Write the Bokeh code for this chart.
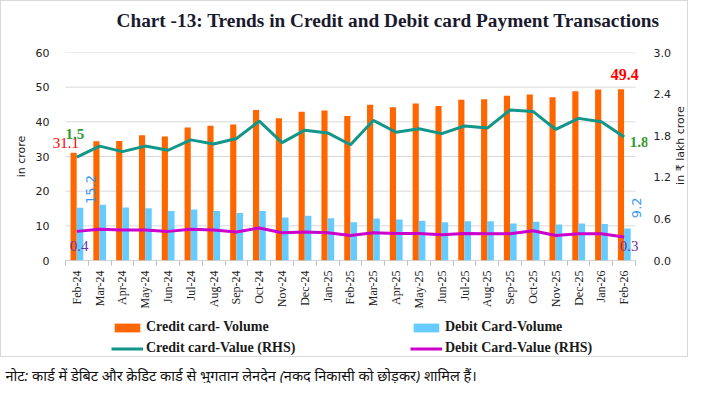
import math
from bokeh.plotting import figure
from bokeh.layouts import column, row
from bokeh.models import (Range1d, LinearAxis, FixedTicker, Label, Legend, LegendItem,
                          ColumnDataSource, NumeralTickFormatter)
from bokeh.embed import file_html
from bokeh.resources import INLINE

months = ["Feb-24", "Mar-24", "Apr-24", "May-24", "Jun-24", "Jul-24", "Aug-24", "Sep-24",
          "Oct-24", "Nov-24", "Dec-24", "Jan-25", "Feb-25", "Mar-25", "Apr-25", "May-25",
          "Jun-25", "Jul-25", "Aug-25", "Sep-25", "Oct-25", "Nov-25", "Dec-25", "Jan-26", "Feb-26"]
credit_volume = [31.1, 34.4, 34.5, 36.1, 35.8, 38.4, 38.9, 39.2, 43.4, 41.0, 42.9, 43.3, 41.7,
                 44.9, 44.2, 45.3, 44.6, 46.4, 46.5, 47.5, 47.9, 47.1, 48.8, 49.3, 49.4]
debit_volume = [15.2, 16.1, 15.3, 15.1, 14.3, 14.7, 14.3, 13.7, 14.3, 12.4, 12.9, 12.2, 11.0,
                12.1, 11.8, 11.5, 11.0, 11.3, 11.3, 10.7, 11.2, 10.4, 10.7, 10.5, 9.2]
credit_value = [1.49, 1.65, 1.57, 1.65, 1.59, 1.74, 1.68, 1.76, 2.01, 1.70, 1.88, 1.84, 1.67,
                2.02, 1.85, 1.90, 1.83, 1.94, 1.91, 2.17, 2.15, 1.89, 2.05, 2.00, 1.78]
debit_value = [0.42, 0.45, 0.44, 0.44, 0.42, 0.45, 0.44, 0.41, 0.47, 0.40, 0.41, 0.40, 0.36,
               0.40, 0.39, 0.39, 0.37, 0.39, 0.385, 0.385, 0.43, 0.36, 0.385, 0.385, 0.34]
left_ticks = [0, 10, 20, 30, 40, 50, 60]
right_ticks = [0.0, 0.6, 1.2, 1.8, 2.4, 3.0]

title_text = "Chart -13: Trends in Credit and Debit card Payment Transactions"
left_label = "in crore"
right_label = "in ₹ lakh crore"
note_text = "नोट: कार्ड में डेबिट और क्रेडिट कार्ड से भुगतान लेनदेन (नकद निकासी को छोड़कर) शामिल हैं।"

ORANGE = "#FF6600"
LBLUE = "#66CCFF"
TEAL = "#13968A"
MAGENTA = "#CC00CC"
GRID = "#D9D9D9"
TXT = "#222222"

W = 686           # inner width (a 1px border surrounds title + chart + legend)
HT = 36           # title strip height
HC = 276          # chart figure height
HL = 43           # legend strip height
HN = 26           # note strip height
WR = 14           # right axis-title strip width
WP = W - WR       # chart figure width
FL, FR = 51, 650  # frame left/right inside chart figure
FT, FB = 15, 223  # frame top/bottom inside chart figure
PX = 22.96        # pixels per category

n = len(months)
idx = list(range(n))
src = ColumnDataSource(dict(
    x=idx,
    xc=[i - 0.14 for i in idx],
    xd=[i + 0.14 for i in idx],
    cv=credit_volume, dv=debit_volume, cval=credit_value, dval=debit_value,
))


def no_align(fig):
    try:
        fig.frame_align = False
    except Exception:
        pass


def strip(w, h):
    f = figure(width=w, height=h, output_backend="svg", toolbar_location=None,
               x_axis_type=None, y_axis_type=None,
               min_border_left=0, min_border_right=0, min_border_top=0, min_border_bottom=0,
               x_range=Range1d(0, 1), y_range=Range1d(0, 1))
    no_align(f)
    f.outline_line_color = None
    f.grid.visible = False
    return f


# ---- title strip
pt = strip(W, HT)
pt.add_layout(Label(x=115, y=17, x_units="screen", y_units="screen", text=title_text,
                    text_font="Liberation Serif", text_font_style="bold",
                    text_font_size="19.3px", text_color="#1A1A2E",
                    text_align="left", text_baseline="middle"))

# ---- chart
x0 = -0.5 - 13 / PX
x1 = n - 0.5 + 12 / PX
p = figure(width=WP, height=HC, output_backend="svg", toolbar_location=None,
           x_range=Range1d(x0, x1), y_range=Range1d(0, 60),
           min_border_left=FL, min_border_right=WP - FR, min_border_top=FT,
           min_border_bottom=HC - FB)
no_align(p)
p.outline_line_color = None
p.background_fill_color = "white"
p.border_fill_color = "white"
p.extra_y_ranges = {"rhs": Range1d(0, 3)}

# gridlines spanning only the category area
p.segment(x0=[-0.5] * len(left_ticks), x1=[n - 0.5] * len(left_ticks),
          y0=left_ticks, y1=left_ticks, line_color=GRID, line_width=1)

# x axis
xa = p.xaxis[0]
xa.ticker = FixedTicker(ticks=idx, minor_ticks=[i - 0.5 for i in range(n + 1)])
xa.major_label_overrides = {i: m for i, m in enumerate(months)}
xa.major_label_orientation = math.pi / 2
xa.major_tick_line_color = None
xa.major_tick_out = 0
xa.minor_tick_line_color = "#BFBFBF"
xa.minor_tick_out = 5
xa.minor_tick_in = 0
xa.axis_line_color = None
xa.major_label_standoff = 5
xa.major_label_text_font = "Liberation Serif"
xa.major_label_text_font_size = "12px"
xa.major_label_text_color = TXT
p.segment(x0=[-0.5], x1=[n - 0.5], y0=[0], y1=[0], line_color="#BFBFBF", line_width=1)

# left axis
ya = p.yaxis[0]
ya.ticker = FixedTicker(ticks=left_ticks)
ya.axis_line_color = None
ya.major_tick_line_color = None
ya.minor_tick_line_color = None
ya.major_label_standoff = -3
ya.major_label_text_font = "DejaVu Sans"
ya.major_label_text_font_size = "11px"
ya.major_label_text_color = TXT
ya.axis_label = left_label
ya.axis_label_text_font = "DejaVu Sans"
ya.axis_label_text_font_style = "normal"
ya.axis_label_text_font_size = "11px"
ya.axis_label_text_color = TXT
ya.axis_label_standoff = 5

p.xgrid.grid_line_color = None
p.ygrid.grid_line_color = None

# right axis
ra = LinearAxis(y_range_name="rhs", ticker=FixedTicker(ticks=right_ticks),
                formatter=NumeralTickFormatter(format="0.0"))
ra.axis_line_color = None
ra.major_tick_line_color = None
ra.minor_tick_line_color = None
ra.major_label_standoff = 0
ra.major_label_text_font = "DejaVu Sans"
ra.major_label_text_font_size = "11px"
ra.major_label_text_color = TXT
p.add_layout(ra, "right")

# glyphs
bar_c = dict(fill_color=ORANGE, line_color=None)
bar_d = dict(fill_color=LBLUE, line_color=None)
ln_c = dict(line_color=TEAL, line_width=3)
ln_d = dict(line_color=MAGENTA, line_width=3)
p.vbar(x="xc", top="cv", width=0.27, source=src, **bar_c)
p.vbar(x="xd", top="dv", width=0.29, source=src, **bar_d)
p.line(x="x", y="cval", source=src, y_range_name="rhs", **ln_c)
p.line(x="x", y="dval", source=src, y_range_name="rhs", **ln_d)

# data labels
def lab(x, y, text, color, size, font="Liberation Serif", style="normal", align="center", angle=0.0):
    p.add_layout(Label(x=x, y=y, text=text, text_color=color, text_font=font,
                       text_font_size=size, text_font_style=style, text_align=align,
                       text_baseline="middle", angle=angle))

lab(0.1, 34.0, "31.1", "#FF0000", "15px", align="right")
lab(-0.5, 36.4, "1.5", "#339933", "15px", style="bold", align="left")
lab(0.59, 20.5, "15.2", "#3399FF", "13px", font="DejaVu Sans", angle=math.pi / 2)
lab(0.1, 4.3, "0.4", "#7030A0", "15px")
lab(24.02, 53.6, "49.4", "#FF0000", "16px", style="bold")
lab(24.66, 34.3, "1.8", "#339933", "15px", style="bold")
lab(24.52, 15.2, "9.2", "#3399FF", "13px", font="DejaVu Sans", angle=math.pi / 2)
lab(24.22, 4.3, "0.3", "#7030A0", "15px")

# ---- right axis title strip (reads bottom-to-top like the reference)
pr = strip(WR, HC)
pr.add_layout(Label(x=7, y=168, x_units="screen", y_units="screen", text=right_label,
                    angle=math.pi / 2, text_align="center", text_baseline="middle",
                    text_font="DejaVu Sans", text_font_size="11px", text_color=TXT))

# ---- legend strip (hidden proxy renderers supply the swatches)
pl = strip(W, HL)
l_cv = pl.vbar(x="xc", top="cv", width=0.27, source=src, visible=False, **bar_c)
l_dv = pl.vbar(x="xd", top="dv", width=0.29, source=src, visible=False, **bar_d)
l_cval = pl.line(x="x", y="cval", source=src, visible=False, **ln_c)
l_dval = pl.line(x="x", y="dval", source=src, visible=False, **ln_d)

def mk_legend(items, xloc):
    lg = Legend(items=items, location=(xloc, 0), orientation="vertical",
                glyph_width=32, glyph_height=11, label_height=16, label_standoff=3,
                spacing=5, padding=0, margin=0, border_line_color=None,
                background_fill_alpha=0.0, label_text_font="Liberation Serif",
                label_text_font_style="bold", label_text_font_size="14px",
                label_text_color="#1A1A1A")
    pl.add_layout(lg, "center")

mk_legend([LegendItem(label="Credit card- Volume", renderers=[l_cv]),
           LegendItem(label="Credit card-Value (RHS)", renderers=[l_cval])], 110)
mk_legend([LegendItem(label="Debit Card-Volume", renderers=[l_dv]),
           LegendItem(label="Debit Card-Value (RHS)", renderers=[l_dval])], 409)

# ---- note strip
pn = strip(W + 2, HN)
pn.add_layout(Label(x=5, y=9, x_units="screen", y_units="screen", text=note_text,
                    text_font="Noto Sans", text_font_style="italic", text_font_size="14.5px",
                    text_baseline="middle", text_align="left", text_color="#111111"))

boxed = column(pt, row(p, pr, spacing=0), pl, spacing=0,
               styles={"border": "1px solid #D9D9D9"})
layout = column(boxed, pn, spacing=0)
open("out.html", "w").write(file_html(layout, INLINE))
